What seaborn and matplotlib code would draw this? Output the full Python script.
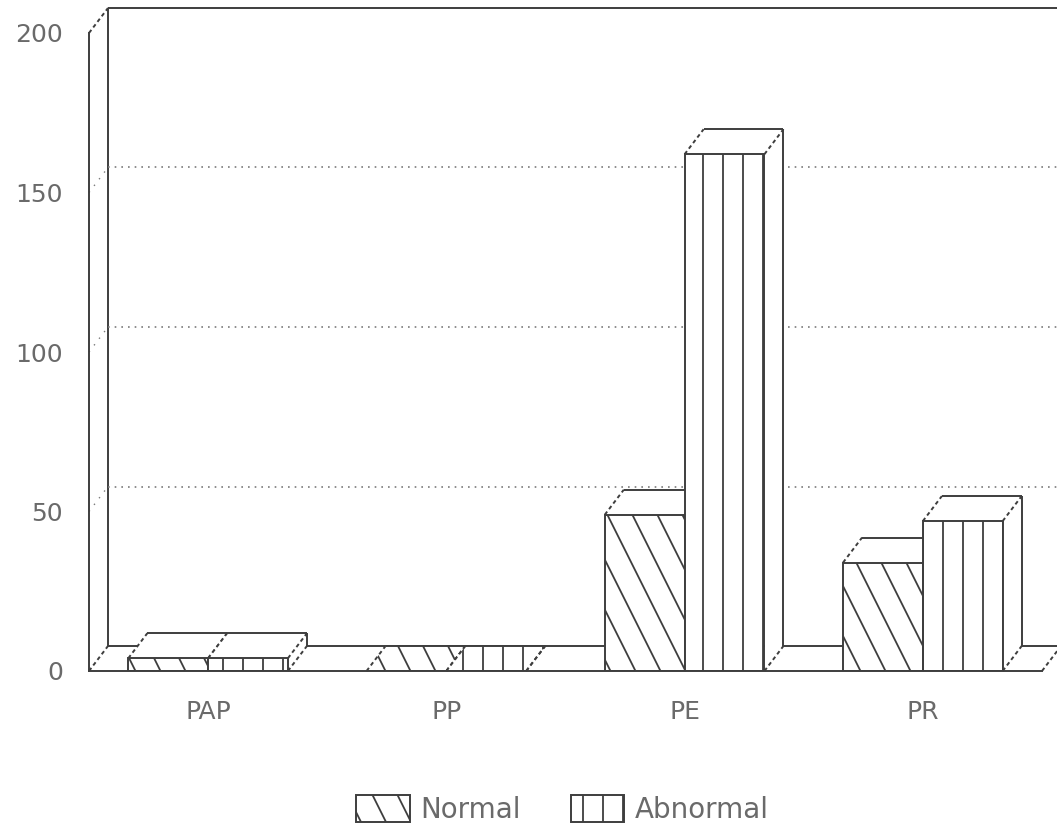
import numpy as np
import pandas as pd
import matplotlib
matplotlib.use("Agg")
import matplotlib.pyplot as plt
import seaborn as sns
from matplotlib.patches import Polygon, Patch
from matplotlib.path import Path
from matplotlib.backend_bases import GraphicsContextBase

# ---- data -------------------------------------------------------------
categories = ["PAP", "PP", "PE", "PR"]
groups = ["Normal", "Abnormal"]
normal_counts = [4, 0, 49, 34]
abnormal_counts = [4, 0, 162, 47]
y_ticks = [0, 50, 100, 150, 200]

# ---- style ------------------------------------------------------------
LINE = "#3e3e3e"
TEXT = "#6a6a6a"
GRID = "#7a7a7a"
LW = 1.4

sns.set_style("white")
plt.rcParams["font.family"] = ["DejaVu Sans"]
plt.rcParams["hatch.color"] = LINE
plt.rcParams["hatch.linewidth"] = 1.3


# Custom fill patterns: steep diagonal strokes and wide vertical strokes.
def _strokes(segments):
    verts, codes = [], []
    for p0, p1 in segments:
        verts += [p0, p1]
        codes += [Path.MOVETO, Path.LINETO]
    return Path(verts, codes)


_PATTERNS = {
    "\\": _strokes([((c, 0.0), (c - 0.5, 1.0)) for c in np.arange(0.0, 1.76, 0.25)]),
    "|": _strokes([((x, 0.0), (x, 1.0)) for x in (0.03, 0.23, 0.43, 0.63, 0.83)]),
}
_default_hatch_path = GraphicsContextBase.get_hatch_path


def _hatch_path(self, density=6.0):
    pattern = _PATTERNS.get(self.get_hatch())
    if pattern is not None:
        return pattern
    return _default_hatch_path(self, density)


GraphicsContextBase.get_hatch_path = _hatch_path
HATCHES = {"Normal": "\\", "Abnormal": "|"}

# ---- figure -----------------------------------------------------------
FIG_W, FIG_H, DPI = 1057, 835, 100
AX_RECT = [89 / FIG_W, (FIG_H - 671) / FIG_H, (1042 - 89) / FIG_W, (671 - 33) / FIG_H]
fig = plt.figure(figsize=(FIG_W / DPI, FIG_H / DPI), dpi=DPI)
ax = fig.add_axes(AX_RECT)

df = pd.DataFrame({
    "test": categories * 2,
    "group": [groups[0]] * len(categories) + [groups[1]] * len(categories),
    "count": normal_counts + abnormal_counts,
})

sns.barplot(data=df, x="test", y="count", hue="group", hue_order=groups,
            palette={g: "white" for g in groups}, edgecolor=LINE, linewidth=LW,
            width=0.67, errorbar=None, legend=False, ax=ax)

X0, X1, Y0, Y1 = -0.5, 3.5, 0, 200
ax.set_xlim(X0, X1)
ax.set_ylim(Y0, Y1)

# depth offset of the pseudo-3D projection, converted to data units
DEPTH_PX = (19, 25)
DX = DEPTH_PX[0] / (AX_RECT[2] * FIG_W / (X1 - X0))
DY = DEPTH_PX[1] / (AX_RECT[3] * FIG_H / (Y1 - Y0))
X_FAR = X1 + 0.2


def seg(xs, ys, z=1, **kw):
    kw.setdefault("color", LINE)
    kw.setdefault("lw", LW)
    ax.plot(xs, ys, zorder=z, clip_on=False, solid_capstyle="butt", **kw)


DASH = (0, (2.0, 1.6))

# back wall, floor and their edges
seg([X0 + DX, X0 + DX], [DY, Y1 + DY])
seg([X0 + DX, X_FAR], [Y1 + DY, Y1 + DY])
seg([X0 + DX, X_FAR], [DY, DY])
seg([X0, X0 + DX], [Y1, Y1 + DY], ls=DASH)
seg([X0, X0 + DX], [0, DY], ls=DASH)
seg([X1, X1 + DX], [0, DY], ls=DASH)
for g in y_ticks[1:-1]:
    seg([X0 + DX, X_FAR], [g + DY, g + DY], color=GRID, lw=1.2, ls=(0, (1, 3)))
    seg([X0, X0 + DX], [g, g + DY], color=GRID, lw=1.0, ls=(0, (1, 5)))

# bars: front faces from seaborn, plus top and side faces
for level, (group, container) in enumerate(zip(groups, ax.containers)):
    z = 3 + level
    hatch = HATCHES[group]
    for bar in container:
        bar.set_hatch(hatch)
        bar.set_zorder(z + 0.2)
        x0, w, h = bar.get_x(), bar.get_width(), bar.get_height()
        x1 = x0 + w
        # an empty bar shows only its (hatched) lid lying on the floor
        top = Polygon([(x0, h), (x1, h), (x1 + DX, h + DY), (x0 + DX, h + DY)],
                      closed=True, facecolor="white", edgecolor=LINE, linewidth=0,
                      hatch=hatch if h == 0 else None, zorder=z, clip_on=False)
        side = Polygon([(x1, 0), (x1 + DX, DY), (x1 + DX, h + DY), (x1, h)],
                       closed=True, facecolor="white", edgecolor=LINE, linewidth=0,
                       zorder=z, clip_on=False)
        ax.add_patch(top)
        ax.add_patch(side)
        seg([x0 + DX, x1 + DX], [h + DY, h + DY], z=z + 0.1)
        seg([x1 + DX, x1 + DX], [DY, h + DY], z=z + 0.1)
        seg([x0, x0 + DX], [h, h + DY], z=z + 0.1, ls=DASH)
        seg([x1, x1 + DX], [h, h + DY], z=z + 0.1, ls=DASH)
        seg([x1, x1 + DX], [0, DY], z=z + 0.1, ls=DASH)

# axes, ticks and labels
for side_name in ("top", "right"):
    ax.spines[side_name].set_visible(False)
for side_name in ("left", "bottom"):
    ax.spines[side_name].set_color(LINE)
    ax.spines[side_name].set_linewidth(LW)
    ax.spines[side_name].set_zorder(6)
ax.set_yticks(y_ticks)
ax.set_yticklabels([str(t) for t in y_ticks])
ax.tick_params(axis="y", direction="out", length=8.6, width=LW, color=LINE,
               pad=10, labelsize=18, labelcolor=TEXT)
ax.tick_params(axis="x", direction="out", length=8, width=1.0, color=LINE,
               pad=13, labelsize=18, labelcolor=TEXT)
ax.set_xlabel("")
ax.set_ylabel("")
ax.grid(False)
ax.patch.set_alpha(0)

handles = [Patch(facecolor="white", edgecolor=LINE, linewidth=LW, hatch=HATCHES[g], label=g)
           for g in groups]
leg = fig.legend(handles=handles, loc="center", bbox_to_anchor=(0.532, 0.031), ncol=2,
                 frameon=False, fontsize=20, handlelength=1.94, handleheight=1.15,
                 handletextpad=0.36, columnspacing=1.8)
for t in leg.get_texts():
    t.set_color(TEXT)

fig.savefig("out.png", dpi=DPI, facecolor="white")
